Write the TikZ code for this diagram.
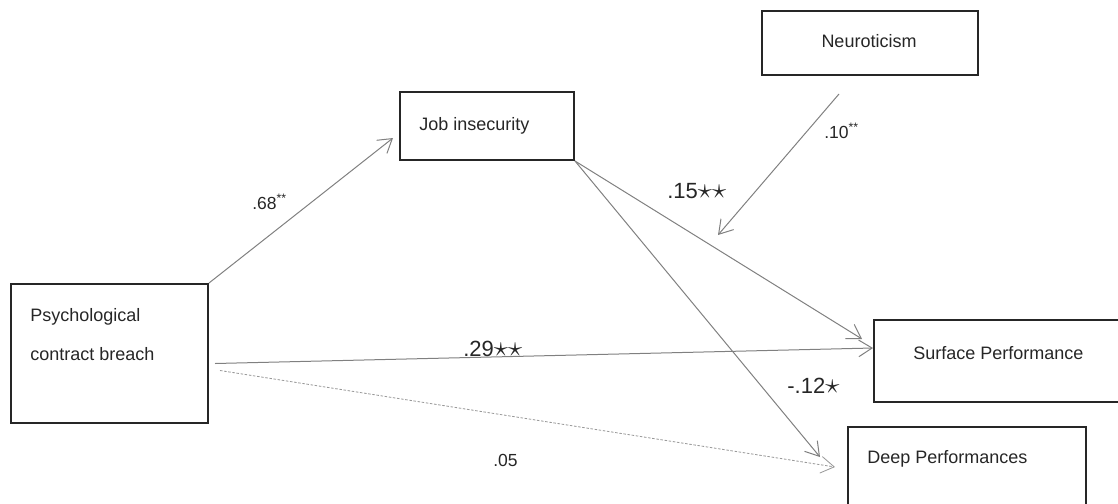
\documentclass[tikz,border=0pt]{standalone}
\usepackage{fontspec}
\setmainfont{Liberation Sans}
\usetikzlibrary{arrows.meta,calc}

\newcommand{\sig}[1]{{\fontsize{17}{17}\selectfont$#1$}}

\tikzset{
  box/.style={draw=black!85, line width=1.2pt, anchor=north west, inner sep=0pt},
  txt/.style={anchor=base west, inner sep=0pt, text=black!85, font=\fontsize{10.8}{13}\selectfont},
  coef/.style={anchor=base west, inner sep=0pt, text=black!85, font=\fontsize{10.5}{12}\selectfont},
  bigcoef/.style={anchor=base west, inner sep=0pt, text=black!85, font=\fontsize{13.2}{15}\selectfont},
  link/.style={draw=black!50, line width=0.6pt, -{Straight Barb[length=8pt,width=10pt]}},
  dotlink/.style={draw=black!40, line width=0.5pt, dash pattern=on 1.5pt off 1pt}
}

\begin{document}
\begin{tikzpicture}[x=0.6pt, y=-0.6pt]
            \useasboundingbox (0,0) rectangle (1118,503);
            % boxes
            \node[box, minimum width=118.2pt, minimum height=83.4pt] (psych) at (10,283) {};
            \node[box, minimum width=104.4pt, minimum height=40.8pt] (job) at (399,91) {};
            \node[box, minimum width=129.6pt, minimum height=38.4pt] (neuro) at (761,10) {};
            \node[box, minimum width=160.2pt, minimum height=49.2pt] (surf) at (873,319) {};
            \node[box, minimum width=142.8pt, minimum height=62.4pt] (deep) at (847,426) {};
            \node[txt] (psych-a) at (30,321) {Psychological};
            \node[txt] (psych-b) at (30,360) {contract breach};
            \node[txt] (job-t) at (419,130) {Job insecurity};
            \node[txt, anchor=base] (neuro-t) at (869,47) {Neuroticism};
            \node[txt] (surf-t) at (913,359) {Surface Performance};
            \node[txt] (deep-t) at (867,463) {Deep Performances};
            % paths
            \coordinate (mod) at (718,235);
            \draw[link] (psych.north east) -- ($(job.west)+(-6,12)$);
            \draw[link] (job.south east) -- ($(surf.north west)+(-11,20)$);
            \draw[link] (job.south east) -- ($(deep.north west)+(-27,31)$);
            \draw[link] ($(psych.east)+(6,10)$) -- ($(surf.west)+(0,-13)$);
            \draw[link, dotlink] ($(psych.east)+(11,17)$) -- ($(deep.north west)+(-12,41)$);
            \draw[link] ($(neuro.south)+(-31,18)$) -- (mod);
            % coefficients
            \node[coef] (b-a) at (252,209) {.68\textsuperscript{**}};
            \node[coef] (b-mod) at (824,138) {.10\textsuperscript{**}};
            \node[coef] (b-dir2) at (493,466) {.05};
            \node[bigcoef] (b-s) at (667,198) {.15\sig{\star\star}};
            \node[bigcoef] (b-dir1) at (463,356) {.29\sig{\star\star}};
            \node[bigcoef] (b-d) at (787,393) {-.12\sig{\star}};
\end{tikzpicture}
\end{document}
